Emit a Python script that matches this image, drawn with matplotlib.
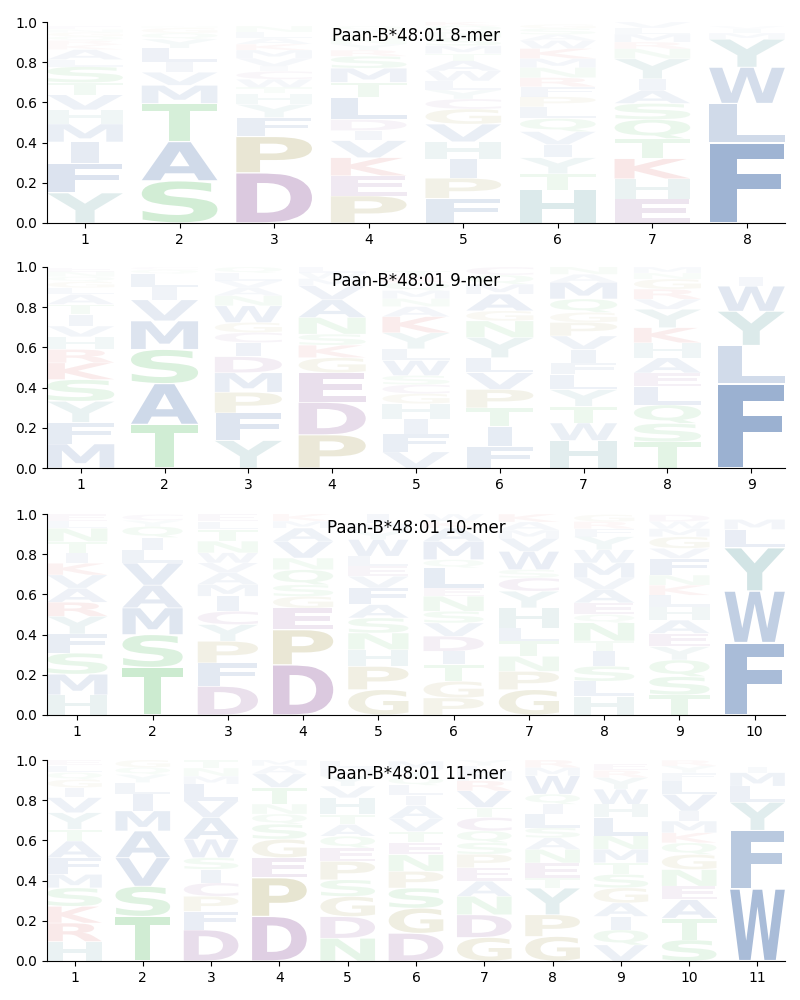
import matplotlib
matplotlib.use("Agg")
import matplotlib.pyplot as plt
from matplotlib.textpath import TextPath
from matplotlib.font_manager import FontProperties
from matplotlib.patches import PathPatch
from matplotlib.transforms import Affine2D

allele = "Paan-B*48:01"
lengths = [8, 9, 10, 11]

# letters per position (bottom to top) and their heights
mer8_letters = ["YFIMHVTSLAKRQGNE", "SATMVILYQGN", "DPFYHTWCIVMKALN", "PEKVIDLTMSRYNGAQ",
                "FPIHVGCYLWATMSNQK", "HTYIVQLPFRNMKWASG", "EHKTQSAIYNRMLV", "FLWYMIV"]
mer8_heights = [
    [.15, .148, .105, .09, .07, .075, .06, .08, .035, .05, .025, .02, .02, .02, .015, .015],
    [.21, .195, .19, .09, .065, .05, .07, .045, .03, .025, .01],
    [.25, .18, .095, .065, .055, .03, .04, .04, .025, .04, .04, .03, .03, .03, .03],
    [.135, .1, .09, .085, .05, .055, .11, .075, .07, .06, .03, .03, .03, .02, .02, .02],
    [.123, .1, .095, .086, .088, .075, .05, .045, .045, .05, .05, .035, .04, .04, .03, .03, .02],
    [.165, .08, .08, .065, .065, .065, .058, .05, .05, .045, .05, .045, .05, .04, .03, .03, .02],
    [.12, .1, .1, .1, .095, .08, .066, .056, .1, .05, .033, .04, .03, .03],
    [.40, .195, .18, .14, .03, .02, .015],
]

mer9_letters = ["MFYSKRHVITALGQNE", "TASMVILQC", "YFPMDICGWNAVLQ", "PDEGKSNAVMWL",
                "VFIHGCSWLYKANMQRT", "FITPVLYNGAMQC", "HWTYLFIVPGQMAN", "TSQLEAHKYVRGNM",
                "FLYWI"]
mer9_heights = [
    [.12, .107, .105, .108, .083, .067, .063, .053, .058, .05, .05, .033, .03, .025, .025, .02],
    [.217, .203, .17, .142, .105, .062, .067, .02, .015],
    [.137, .137, .103, .097, .08, .07, .05, .05, .083, .05, .04, .035, .038, .03],
    [.165, .162, .147, .075, .062, .055, .083, .088, .07, .035, .03, .028],
    [.08, .09, .075, .075, .05, .045, .045, .075, .058, .08, .08, .05, .04, .04, .04, .03, .03],
    [.107, .1, .092, .092, .083, .075, .1, .083, .05, .083, .05, .045, .04],
    [.137, .087, .083, .083, .075, .058, .067, .067, .067, .05, .067, .083, .04, .037],
    [.13, .092, .092, .092, .067, .075, .075, .075, .092, .05, .05, .05, .03, .03],
    [.42, .19, .17, .125, .045],
]

mer10_letters = ["HMSFYRAVKITNLE", "TSMAVLIQYC", "DFPYCIMAVWNTLE", "DPEGSQNVAMK",
                 "GPHNSAFVELWYMI", "PGTIDVSNELQMAKW", "GPNTLHYCSWVMAK", "HLSITNQEAVMWYFRG",
                 "TSQYEAHLKNFVGMWD", "FWYLM"]
mer10_heights = [
    [.1, .103, .105, .095, .088, .07, .07, .066, .058, .05, .058, .066, .035, .035],
    [.237, .163, .133, .113, .11, .066, .061, .055, .03, .03],
    [.143, .116, .108, .083, .066, .075, .058, .058, .05, .05, .058, .058, .04, .038],
    [.25, .174, .108, .058, .058, .075, .058, .083, .066, .035, .035],
    [.126, .116, .083, .083, .075, .066, .083, .058, .05, .05, .083, .04, .04, .047],
    [.085, .083, .083, .066, .075, .066, .058, .075, .041, .1, .041, .091, .066, .035, .035],
    [.126, .091, .075, .075, .066, .1, .083, .066, .041, .091, .066, .04, .04, .04],
    [.093, .075, .075, .075, .05, .091, .041, .058, .066, .058, .075, .065, .065, .04, .035, .035],
    [.1, .091, .083, .066, .066, .066, .066, .058, .05, .05, .083, .05, .058, .04, .035, .035],
    [.36, .257, .215, .091, .05],
]

mer11_letters = ["HRKSMFATYVIGQLE", "TSVAMILYQG", "DFPCISWAVLMNT", "DPEGSQNTVAM",
                 "NDGSPEQATHVYML", "DGSPNETVAILQYM", "GDNAEPSQCTVRMLY", "GPYTENASLIQWMR",
                 "VQIAGSTMNLHWYRE", "STAENGQKMIVLFYR", "WFYLMI"]
mer11_heights = [
    [.097, .092, .083, .092, .067, .083, .083, .058, .083, .075, .05, .04, .035, .035, .027],
    [.222, .15, .142, .133, .1, .083, .058, .04, .035, .037],
    [.155, .092, .075, .067, .067, .058, .092, .108, .083, .083, .04, .04, .04],
    [.222, .192, .1, .092, .075, .05, .05, .083, .067, .04, .03],
    [.113, .108, .1, .083, .092, .067, .058, .058, .05, .083, .058, .05, .04, .038],
    [.138, .125, .1, .083, .083, .06, .055, .065, .065, .05, .05, .04, .04, .04],
    [.117, .113, .092, .075, .067, .067, .058, .058, .067, .05, .083, .05, .04, .035, .028],
    [.122, .108, .133, .05, .075, .067, .058, .05, .067, .05, .05, .092, .04, .038],
    [.08, .075, .067, .067, .075, .067, .058, .067, .067, .09, .067, .075, .058, .035, .035],
    [.105, .108, .092, .067, .083, .075, .058, .05, .058, .05, .083, .067, .04, .035, .028],
    [.36, .29, .14, .08, .067, .03],
]

panels = [
    (mer8_letters, mer8_heights),
    (mer9_letters, mer9_heights),
    (mer10_letters, mer10_heights),
    (mer11_letters, mer11_heights),
]

# colour groups
blue = (0.27, 0.43, 0.67)
green = (0.35, 0.75, 0.40)
red = (0.82, 0.28, 0.28)
purple = (0.56, 0.34, 0.61)
olive = (0.63, 0.59, 0.28)
teal = (0.37, 0.62, 0.63)
aa_colors = {}
for c in "AVLIMFW":
    aa_colors[c] = blue
for c in "STNQ":
    aa_colors[c] = green
for c in "KR":
    aa_colors[c] = red
for c in "DEC":
    aa_colors[c] = purple
for c in "PG":
    aa_colors[c] = olive
for c in "HY":
    aa_colors[c] = teal

fp = FontProperties(family="DejaVu Sans", weight="bold")
_ref_w = TextPath((0, 0), "E", size=1, prop=fp).get_extents().width


def draw_letter(ax, ch, x, y0, h, width=0.8, vpad=0.03):
    tp = TextPath((0, 0), ch, size=1, prop=fp)
    bb = tp.get_extents()
    sx = min(width / bb.width, width / _ref_w)
    gh = h * (1 - vpad)
    sy = gh / bb.height
    w_actual = bb.width * sx
    t = (Affine2D().translate(-bb.x0, -bb.y0).scale(sx, sy)
         .translate(x - w_actual / 2, y0 + h * vpad / 2))
    path = t.transform_path(tp)
    alpha = min(1.0, 1.28 * h)
    ax.add_patch(PathPatch(path, facecolor=aa_colors[ch], edgecolor="none",
                           alpha=alpha, lw=0))


fig = plt.figure(figsize=(8, 10), dpi=100)
bottoms = [0.777, 0.532, 0.285, 0.039]
for (letters, heights), n, b in zip(panels, lengths, bottoms):
    ax = fig.add_axes([0.059, b, 0.922, 0.201])
    for i in range(n):
        y = 0.0
        for ch, h in zip(letters[i], heights[i]):
            draw_letter(ax, ch, i + 1, y, h)
            y += h
    ax.set_xlim(0.6, n + 0.4)
    ax.set_ylim(0, 1)
    ax.set_xticks(range(1, n + 1))
    ax.set_yticks([0, 0.2, 0.4, 0.6, 0.8, 1.0])
    ax.set_yticklabels(["0.0", "0.2", "0.4", "0.6", "0.8", "1.0"])
    ax.spines["top"].set_visible(False)
    ax.spines["right"].set_visible(False)
    ax.tick_params(labelsize=10)
    ax.text(0.5, 0.93, f"{allele} {n}-mer", transform=ax.transAxes,
            ha="center", va="center", fontsize=12)

fig.savefig("out.png", dpi=100)
